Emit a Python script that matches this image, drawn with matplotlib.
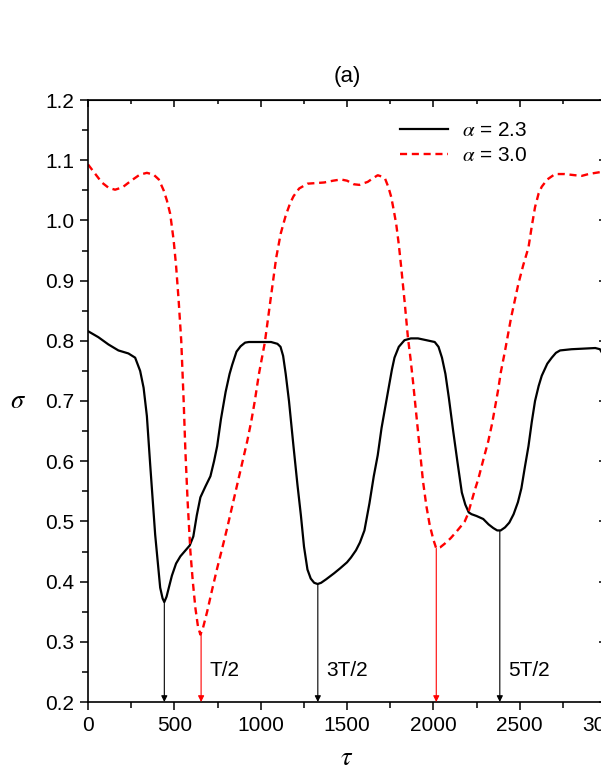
import numpy as np
import matplotlib
matplotlib.use('Agg')
import matplotlib.pyplot as plt
from matplotlib.ticker import MultipleLocator, FormatStrFormatter

plt.rcParams['font.family'] = ['Liberation Sans', 'DejaVu Sans']
plt.rcParams['mathtext.fontset'] = 'stix'

# alpha = 2.3 (черная сплошная)
tau_a = [0, 60, 118, 176, 234, 273, 302, 322, 341, 360, 389, 418, 432, 442, 455, 470,
         486, 510, 535, 565, 589, 610, 630, 651, 680, 709, 730, 748, 770, 797, 820, 835,
         860, 884, 910, 932, 1000, 1060, 1097, 1115, 1130, 1145, 1164, 1190, 1213, 1233,
         1251, 1271, 1290, 1310, 1330, 1350, 1380, 1426, 1460, 1500, 1523, 1552, 1575,
         1601, 1630, 1655, 1678, 1700, 1737, 1760, 1775, 1800, 1833, 1870, 1911, 1960,
         2008, 2030, 2050, 2070, 2090, 2115, 2140, 2165, 2185, 2205, 2221, 2250, 2289,
         2320, 2347, 2370, 2390, 2415, 2440, 2465, 2490, 2510, 2530, 2551, 2570, 2589,
         2610, 2628, 2660, 2686, 2710, 2734, 2800, 2870, 2938, 2965, 2983, 3000]
sig_a = [0.816, 0.806, 0.794, 0.784, 0.779, 0.772, 0.750, 0.722, 0.675, 0.595, 0.478,
         0.390, 0.372, 0.366, 0.375, 0.392, 0.410, 0.430, 0.442, 0.452, 0.460, 0.475,
         0.510, 0.540, 0.558, 0.575, 0.600, 0.625, 0.670, 0.715, 0.745, 0.760, 0.782,
         0.791, 0.797, 0.798, 0.798, 0.798, 0.795, 0.790, 0.775, 0.745, 0.700, 0.625,
         0.561, 0.510, 0.458, 0.420, 0.405, 0.398, 0.396, 0.398, 0.404, 0.414, 0.422,
         0.432, 0.440, 0.452, 0.465, 0.485, 0.530, 0.575, 0.610, 0.655, 0.715, 0.752,
         0.772, 0.790, 0.801, 0.804, 0.804, 0.801, 0.798, 0.790, 0.772, 0.745, 0.705,
         0.650, 0.598, 0.548, 0.528, 0.515, 0.512, 0.509, 0.504, 0.495, 0.489, 0.485,
         0.485, 0.490, 0.498, 0.512, 0.532, 0.555, 0.590, 0.625, 0.665, 0.700, 0.725,
         0.742, 0.762, 0.772, 0.780, 0.784, 0.786, 0.787, 0.788, 0.786, 0.777, 0.772]

# alpha = 3.0 (красная пунктирная)
tau_b = [0, 40, 80, 120, 157, 200, 250, 300, 341, 380, 410, 438, 457, 476, 496, 510,
         525, 540, 554, 564, 577, 593, 607, 622, 637, 651, 665, 690, 720, 748, 777, 806,
         835, 864, 893, 922, 946, 966, 990, 1024, 1058, 1090, 1116, 1145, 1170, 1190,
         1223, 1271, 1320, 1368, 1420, 1465, 1500, 1540, 1572, 1600, 1620, 1650, 1678,
         1700, 1721, 1740, 1756, 1770, 1785, 1800, 1814, 1833, 1853, 1868, 1882, 1911,
         1940, 1960, 1979, 2000, 2017, 2040, 2066, 2100, 2134, 2160, 2182, 2200, 2221,
         2240, 2260, 2290, 2318, 2340, 2357, 2375, 2391, 2415, 2450, 2492, 2520, 2551,
         2570, 2589, 2610, 2628, 2660, 2705, 2760, 2822, 2860, 2899, 2940, 2983, 3000]
sig_b = [1.093, 1.078, 1.063, 1.054, 1.051, 1.055, 1.066, 1.076, 1.079, 1.076, 1.068,
         1.050, 1.033, 1.011, 0.967, 0.925, 0.867, 0.800, 0.700, 0.617, 0.533, 0.450,
         0.400, 0.356, 0.325, 0.312, 0.322, 0.350, 0.388, 0.422, 0.455, 0.489, 0.525,
         0.561, 0.597, 0.633, 0.667, 0.700, 0.745, 0.797, 0.870, 0.938, 0.978, 1.008,
         1.028, 1.040, 1.053, 1.061, 1.062, 1.063, 1.066, 1.068, 1.066, 1.060, 1.059,
         1.062, 1.064, 1.070, 1.075, 1.073, 1.069, 1.055, 1.039, 1.018, 0.994, 0.960,
         0.922, 0.867, 0.805, 0.770, 0.733, 0.650, 0.567, 0.525, 0.494, 0.470, 0.455,
         0.457, 0.463, 0.472, 0.483, 0.492, 0.500, 0.512, 0.533, 0.552, 0.570, 0.603,
         0.633, 0.662, 0.689, 0.718, 0.748, 0.783, 0.838, 0.894, 0.925, 0.955, 0.990,
         1.022, 1.045, 1.056, 1.068, 1.077, 1.077, 1.075, 1.074, 1.077, 1.079, 1.081,
         1.081]

# стрелки на минимумах: (tau, sigma_min, цвет)
arrow_tau = [442, 655, 1331, 2017, 2385]
arrow_sig = [0.366, 0.312, 0.396, 0.455, 0.485]
arrow_col = ['black', 'red', 'black', 'red', 'black']
label_tau = [705, 1381, 2433]
label_txt = ['T/2', '3T/2', '5T/2']

fig = plt.figure(figsize=(6.01, 7.78), dpi=100)
ax = fig.add_axes([88 / 601, 1 - 702 / 778, 518 / 601, 602 / 778])

ax.plot(tau_a, sig_a, color='black', lw=1.6, label=r'$\alpha$ = 2.3')
ax.plot(tau_b, sig_b, color='red', lw=1.7, dashes=(3, 2), label=r'$\alpha$ = 3.0')

for t, s, c in zip(arrow_tau, arrow_sig, arrow_col):
    ax.annotate('', xy=(t, 0.2), xytext=(t, s),
                arrowprops=dict(arrowstyle='-|>', color=c, lw=0.8,
                                mutation_scale=9, shrinkA=0, shrinkB=0))
for t, txt in zip(label_tau, label_txt):
    ax.text(t, 0.253, txt, fontsize=15, ha='left', va='center')

ax.set_xlim(0, 3000)
ax.set_ylim(0.2, 1.2)
ax.xaxis.set_major_locator(MultipleLocator(500))
ax.xaxis.set_minor_locator(MultipleLocator(250))
ax.yaxis.set_major_locator(MultipleLocator(0.1))
ax.yaxis.set_minor_locator(MultipleLocator(0.05))
ax.yaxis.set_major_formatter(FormatStrFormatter('%.1f'))
ax.tick_params(which='major', direction='out', length=6, width=1.1, labelsize=15, pad=4)
ax.tick_params(which='minor', direction='out', length=4, width=1.1)
for sp in ax.spines.values():
    sp.set_linewidth(1.2)

# верхняя и правая оси: риски внутрь, без подписей
top = ax.secondary_xaxis('top')
top.xaxis.set_major_locator(MultipleLocator(500))
top.xaxis.set_minor_locator(MultipleLocator(250))
top.tick_params(which='major', direction='in', length=5, width=1.1, labeltop=False)
top.tick_params(which='minor', direction='in', length=3, width=1.1)
right = ax.secondary_yaxis('right')
right.yaxis.set_major_locator(MultipleLocator(0.1))
right.yaxis.set_minor_locator(MultipleLocator(0.05))
right.tick_params(which='major', direction='in', length=5, width=1.1, labelright=False)
right.tick_params(which='minor', direction='in', length=3, width=1.1)

ax.set_title('(a)', fontsize=16, pad=13)
ax.set_xlabel(r'$\tau$', fontsize=19, va='center')
ax.set_ylabel(r'$\sigma$', fontsize=19, rotation=0, ha='center', va='center')
ax.xaxis.set_label_coords(0.5, -0.093)
ax.yaxis.set_label_coords(-0.135, 0.5)

ax.legend(loc='upper left', bbox_to_anchor=(0.602, 0.965), frameon=False,
          fontsize=15, handlelength=2.3, handletextpad=0.7, borderpad=0,
          borderaxespad=0, labelspacing=0.3)

plt.savefig('out.png', dpi=100)
